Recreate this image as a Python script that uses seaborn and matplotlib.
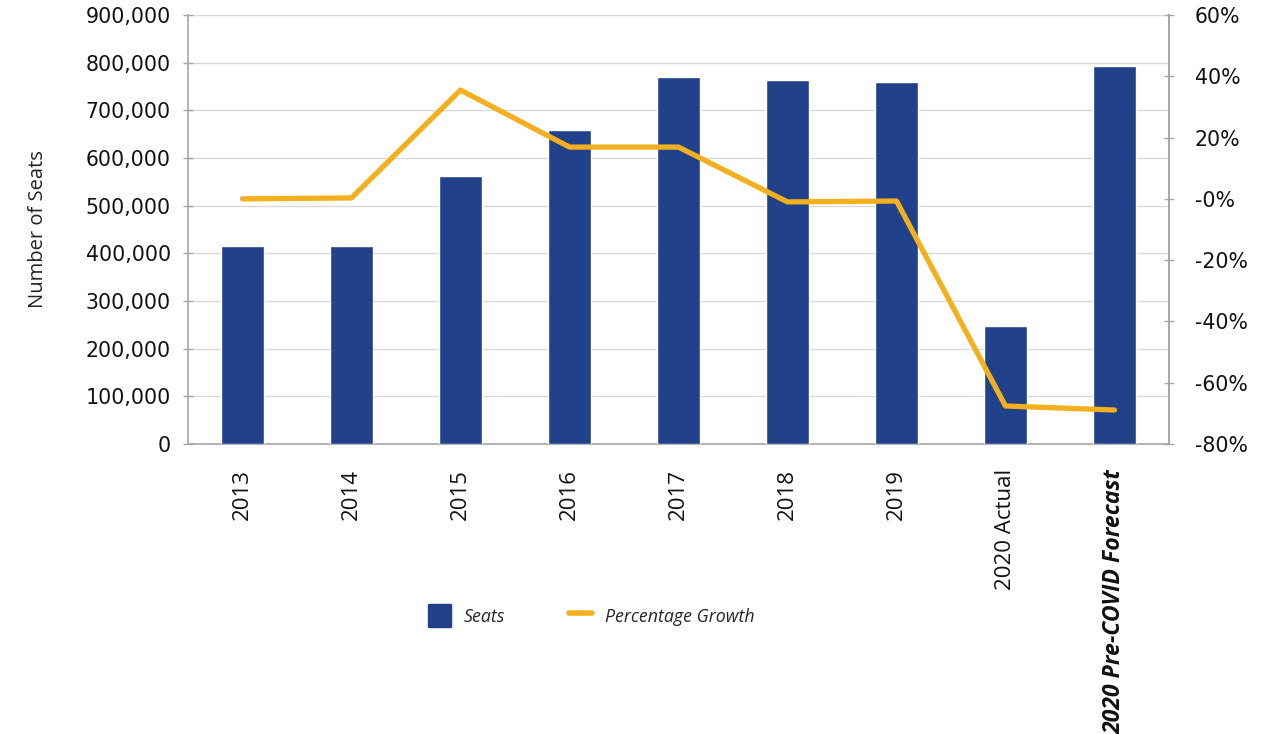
import matplotlib
matplotlib.use("Agg")
import matplotlib.pyplot as plt
import seaborn as sns
import numpy as np
import pandas as pd
from matplotlib.patches import Patch
from matplotlib.lines import Line2D

categories = ["2013", "2014", "2015", "2016", "2017", "2018", "2019", "2020 Actual", "2020 Pre-COVID Forecast"]
seats = [415000, 415000, 562000, 659000, 770000, 764000, 759000, 248000, 793000]
growth = [0.0, 0.3, 35.5, 16.9, 16.9, -1.0, -0.7, -67.6, -68.9]
left_ticks = [0, 100000, 200000, 300000, 400000, 500000, 600000, 700000, 800000, 900000]
right_ticks = [60, 40, 20, 0, -20, -40, -60, -80]
right_labels = ["60%", "40%", "20%", "-0%", "-20%", "-40%", "-60%", "-80%"]

BAR = "#21428a"
LINE = "#f2b01e"

sns.set_theme(style="white")
plt.rcParams["font.family"] = ["DejaVu Sans"]

fig = plt.figure(figsize=(12.84, 7.34), dpi=100)
ax = fig.add_axes([188/1284, 1-444/734, (1169-188)/1284, (444-15)/734])

df = pd.DataFrame({"cat": categories, "seats": seats, "growth": growth})
sns.barplot(data=df, x="cat", y="seats", ax=ax, color=BAR, width=0.4, saturation=1, zorder=3)
ax.set_xlim(-0.5, len(categories)-0.5)
ax.set_ylim(0, 900000)
ax.set_yticks(left_ticks)
ax.set_yticklabels([f"{v:,}" for v in left_ticks])
ax.grid(axis="y", color="#d9d9d9", linewidth=1, zorder=0)
ax.set_axisbelow(True)
ax.set_xlabel("")
ax.set_ylabel("Number of Seats", fontsize=14.5, color="#222222", family=["Open Sans", "DejaVu Sans"])
ax.yaxis.set_label_coords(-0.143, 0.5)

ax.spines["top"].set_visible(False)
for s in ["left", "bottom", "right"]:
    ax.spines[s].set_color("#a6a6a6")
    ax.spines[s].set_linewidth(1.2)

ax.tick_params(axis="y", direction="inout", length=7, width=1, color="#a6a6a6", labelsize=14.8, labelcolor="#111111", pad=9, left=True)
ax.tick_params(axis="x", length=0, pad=18)
ax.set_xticks(range(len(categories)))
ax.set_xticklabels(categories, rotation=90, fontsize=16, family=["Open Sans", "DejaVu Sans"], va="top", ha="center", color="#111111")
lbl = ax.get_xticklabels()[-1]
lbl.set_fontweight("bold")
lbl.set_fontstyle("italic")
lbl.set_fontsize(16.6)

ax2 = ax.twinx()
sns.lineplot(x=np.arange(len(categories)), y=growth, ax=ax2, color=LINE, linewidth=3.8, zorder=5)
ax2.set_ylim(-80, 60)
ax2.set_yticks(right_ticks)
ax2.set_yticklabels(right_labels)
ax2.tick_params(axis="y", direction="inout", length=7, width=1, color="#a6a6a6", labelsize=14.8, labelcolor="#111111", pad=15, right=True)
ax2.spines["top"].set_visible(False)
ax2.spines["left"].set_visible(False)
ax2.spines["bottom"].set_visible(False)
ax2.spines["right"].set_color("#a6a6a6")
ax2.spines["right"].set_linewidth(1.2)
ax2.set_xlim(-0.5, len(categories)-0.5)

handles = [Patch(facecolor=BAR, edgecolor=BAR), Line2D([0], [0], color=LINE, linewidth=4)]
fig.legend(handles, ["Seats", "Percentage Growth"], loc="center", bbox_to_anchor=(0.4605, 0.161), ncol=2,
           frameon=False, prop={"family": ["Open Sans", "DejaVu Sans"], "style": "italic", "size": 12.8},
           columnspacing=3.6, handlelength=1.3, handleheight=1.6, handletextpad=0.7)

fig.savefig("out.png", dpi=100)
